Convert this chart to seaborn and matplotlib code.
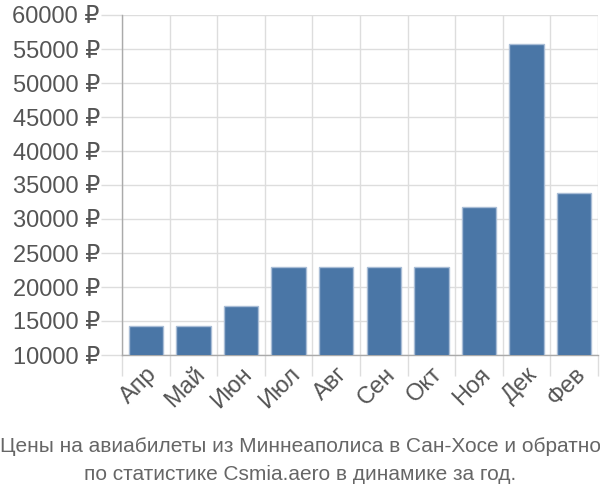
import matplotlib
matplotlib.use("Agg")
import matplotlib.pyplot as plt
import seaborn as sns
import pandas as pd
import numpy as np

months = ["Апр", "Май", "Июн", "Июл", "Авг", "Сен", "Окт", "Ноя", "Дек", "Фев"]
prices = [14300, 14300, 17200, 22900, 22900, 22900, 22900, 31700, 55700, 33800]
yticks = [10000, 15000, 20000, 25000, 30000, 35000, 40000, 45000, 50000, 55000, 60000]
title_lines = ["Цены на авиабилеты из Миннеаполиса в Сан-Хосе и обратно",
               "по статистике Csmia.aero в динамике за год."]

sns.set_theme(style="white")
plt.rcParams['font.family'] = ['Liberation Sans', 'DejaVu Sans']

df = pd.DataFrame({"month": months, "price": prices})

fig = plt.figure(figsize=(6, 5), dpi=100)
ax = fig.add_axes([122/600, 1-355/500, (598-122)/600, (355-15)/500])

sns.barplot(data=df, x="month", y="price", color="#4a76a6", saturation=1,
            width=0.72, edgecolor="#a9bdd6", linewidth=1, ax=ax, zorder=3)

ax.set_ylim(10000, 60000)
ax.set_xlim(-0.5, len(months) - 0.5)
ax.set_yticks(yticks)
ax.set_yticklabels([f"{v} ₽" for v in yticks])
ax.set_xticks(np.arange(-0.5, len(months), 1.0), minor=True)
ax.grid(True, axis="y", color="#dddddd", linewidth=1, zorder=0)
ax.grid(True, axis="x", which="minor", color="#dddddd", linewidth=1, zorder=0)
ax.set_axisbelow(True)
ax.tick_params(axis="y", which="major", length=15, color="#dddddd", width=1,
               labelsize=17, labelcolor="#555555", pad=1, left=True)
ax.tick_params(axis="x", which="major", length=0, labelsize=17, labelcolor="#555555", pad=6)
ax.tick_params(axis="x", which="minor", length=15, color="#dddddd", width=1, bottom=True)
for lab in ax.get_xticklabels():
    lab.set_rotation(45)
    lab.set_ha("right")
    lab.set_rotation_mode("anchor")
ax.set_xlabel("")
ax.set_ylabel("")
for s in ["top", "right"]:
    ax.spines[s].set_visible(False)
ax.spines["left"].set_color("#aaaaaa")
ax.spines["bottom"].set_color("#aaaaaa")
ax.spines["left"].set_linewidth(1)
ax.spines["bottom"].set_linewidth(1)

fig.text(0.5, 1-447/500, title_lines[0], ha="center", va="center", fontsize=15, color="#666666")
fig.text(0.5, 1-475/500, title_lines[1], ha="center", va="center", fontsize=15, color="#666666")

fig.savefig("out.png", dpi=100)
